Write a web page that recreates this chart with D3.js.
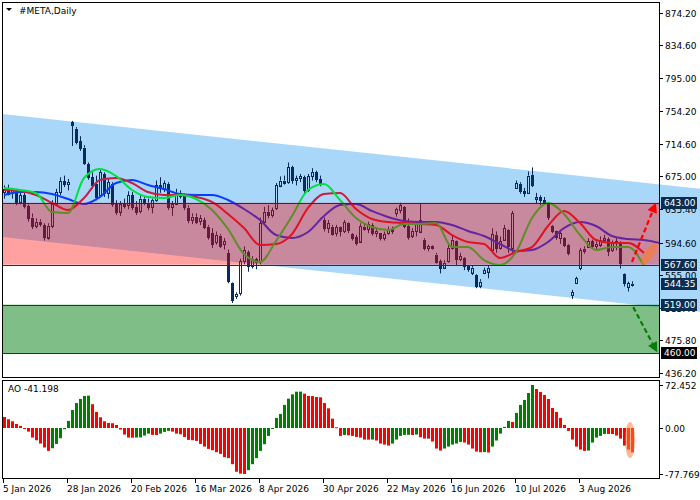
<!DOCTYPE html>
<html><head><meta charset="utf-8">
<script src="https://cdn.jsdelivr.net/npm/d3@7"></script>
<style>
html,body{margin:0;padding:0;background:#fff;}
svg{display:block;}
text{font-family:"DejaVu Sans",Tahoma,sans-serif;font-size:9px;fill:#000;}
</style>
</head><body><svg id="chart" width="700" height="500"></svg>
<script>
// ---------------- DATA ----------------
const title = "#META,Daily";
const dateLabels = ["5 Jan 2026","28 Jan 2026","20 Feb 2026","16 Mar 2026","8 Apr 2026","30 Apr 2026","22 May 2026","16 Jun 2026","10 Jul 2026","3 Aug 2026"];
const dateTickIndex = [0,16,32,48,64,80,96,112,128,144];
const priceTicks = [874.20,834.60,795.00,754.20,714.60,675.00,635.40,594.60,555.00,515.40,475.80,436.20];
const aoTicks = [72.452,0.00,-77.769];

const open = [656,660,654,658,644,652,639,625,615,620,616,601,615,642,656,669,665,741,733,718,
710,690,674,666,652,678,655,666,642,632,642,640,652,638,633,648,643,638,646,664,
660,666,638,642,655,651,637,622,626,620,622,614,606,595,603,592,582,545,529,533,
572,583,566,574,572,620,632,628,636,664,670,668,686,670,672,674,658,675,680,672,
622,612,614,606,613,608,618,605,601,596,614,611,616,606,606,600,606,611,630,634,
638,615,603,608,608,598,588,590,580,572,564,572,588,596,574,576,566,558,555,542,
557,559,586,604,588,598,610,588,661,666,657,655,677,648,650,646,643,615,608,600,
600,592,530,545,563,585,589,596,590,592,598,599,585,594,594,556,540,544];
const high = [664,665,661,660,656,655,641,630,624,623,618,618,646,660,674,676,672,742.5,735,724,
713,692,680,676,684,680,672,668,646,645,648,657,656,645,652,651,648,648,670,674,
670,668,645,660,658,654,640,630,630,628,625,616,612,608,605,600,586,546,534,575,
590,585,578,576,625,638,640,637,667,675,676,692,688,676,678,676,678,685,682,676,
625,622,616,616,614,622,619,606,604,618,617,620,618,612,606,608,614,614,637,643,
639,624,612,620,642,600,592,591,582,574,573,592,604,597,582,577,567,567,556,550,
564,567,612,608,602,616,611,633,670,668,661,681,686,655,652,650,644,616,609,610,
601,593,537,553,588,590,600,598,596,602,604,601,597,600,596,557,547,547.5];
const low = [648,652,648,640,641,636,620,611,612,614,597,598,612,639,652,662,658,712,714,706,
689,671,660,646,650,650,648,638,628,627,636,635,634,628,630,640,634,630,644,655,
656,634,627,640,648,634,618,617,617,616,611,598,588,592,588,586,545,521,526,530,
568,559,563,562,568,616,624,625,634,662,665,666,666,664,668,654,656,670,668,663,
608,606,603,602,602,606,606,597,591,594,609,606,603,601,597,597,604,605,626,630,
612,598,600,602,606,585,584,586,569,557,563,570,586,567,572,561,559,555,539,539,
556,551,585,582,586,597,582,582,660,654,650,654,662,642,640,642,622,606,598,593,
589,579,526,544,561,581,588,587,585,589,595,578,583,585,563,541,535,541];
const close = [660,654,658,644,652,639,624,615,620,617,601,615,642,656,669,665,668,737,717,709,
692,674,664,650,680,655,668,642,632,642,640,652,638,632,648,643,638,646,664,660,
667,638,642,655,651,638,622,626,620,624,614,602,593,604,591,596,548,524,532,572,
585,566,575,570,618,632,628,634,664,670,668,686,670,673,675,658,675,680,672,667,
612,618,606,613,608,619,610,600,594,615,612,617,606,609,600,605,611,608,635,640,
615,602,609,617,622,588,590,587,572,563,570,588,598,574,578,566,562,564,542,547,
561,564,605,588,596,612,590,630,667,657,654,676,665,650,646,644,626,609,601,606,
592,582,534,551,585,587,596,590,593,598,600,585,594,596,570,545,545,544.35];

// Alligator lines, sampled every 4 bars (bar 0,4,8,...,164); null = not drawn
const maStep = 4;
const jaw = [652.4,656.0,656.0,653.6,647.5,641.4,650.0,667.0,670.7,664.6,659.7,653.6,652.4,652.4,646.3,635.4,622.0,603.7,600.1,607.4,
626.8,640.2,641.4,632.9,625.6,620.8,619.5,619.5,615.9,608.6,602.5,592.8,584.3,585.5,595.2,612.2,619.5,614.7,602.5,598.9,597.6,594.0];
const teeth = [658.5,657.3,652.4,642.7,634.1,648.7,670.7,673.1,667.0,656.0,652.4,652.4,650.0,643.9,629.3,612.2,591.6,592.8,604.9,636.6,
653.6,654.8,635.4,623.2,619.5,618.3,617.1,615.9,603.7,595.2,592.8,575.7,583.0,589.1,614.7,632.9,618.3,597.6,594.0,594.0,581.8,null];
const lips = [660.9,658.5,654.8,631.7,630.5,673.1,684.0,675.5,658.5,650.0,648.7,652.4,647.5,634.1,611.0,580.6,570.9,596.4,626.8,658.5,
665.8,646.3,624.4,613.5,609.8,617.1,617.1,618.3,589.1,589.1,573.3,567.2,583.0,624.4,642.7,629.3,603.7,585.5,589.1,589.1,566.0,null];

const ao = [18.5,14.6,11.2,6.7,3.4,-1.7,-6.2,-16.3,-20.8,-26.4,-33.0,-38.8,-34.3,-27.0,-17.4,-2.2,11.8,30.3,42.0,48.9,
54.0,54.5,40.0,27.0,18.0,11.2,8.4,7.9,5.0,-2.8,-11.2,-16.3,-16.5,-16.2,-16.0,-12.9,-9.6,-11.8,-12.0,-9.6,
-6.7,-5.0,-6.2,-9.6,-10.7,-15.2,-20.2,-20.8,-21.9,-27.0,-31.5,-35.4,-37.6,-41.0,-43.8,-49.4,-51.0,-61.2,-74.0,-77.2,
-77.769,-71.3,-61.2,-51.0,-38.8,-27.5,-13.5,-1.7,16.9,23.6,38.8,49.4,56.7,61.2,61.3,57.9,53.9,53.8,52.2,51.7,
42.1,33.1,15.7,1.1,-13.5,-11.8,-12.4,-13.5,-15.2,-16.3,-19.7,-19.8,-19.6,-21.3,-26.4,-28.1,-29.8,-26.4,-19.7,-13.5,
-11.8,-11.7,-11.9,-11.2,-15.7,-18.0,-18.1,-23.0,-34.8,-38.2,-34.8,-31.5,-28.1,-26.4,-23.6,-24.7,-28.1,-34.8,-39.9,-41.0,
-40.8,-41.5,-31.5,-21.3,-9.6,1.7,11.8,10.1,25.3,38.8,47.2,59.0,72.452,65.7,60.7,55.6,48.9,33.7,27.0,16.9,
5.1,-5.1,-19.7,-31.5,-36.5,-38.8,-38.2,-24.7,-16.3,-13.5,-10.1,-10.2,-10.3,-12.9,-18.0,-29.8,-36.5,-41.198];

// channel (upper line at bar 0 and bar 164, price width of channel)
const channelBars = [0,164];
const channelUpper = [750.7,665.3];
const channelWidth = 149.6;
// zones
const resistanceZone = [643.00,567.60];
const targetZone = [519.00,460.00];
// forecast arrows [bar, price] -> [bar, price]
const upArrow = [[157,571],[163,643]];
const downArrow = [[157.3,516],[163.3,461]];
// highlight ellipses (centre bar, value)
const priceMark = [161.3,580.4];
const aoMark = [156.5,-20.4];

// ---------------- DRAW ----------------
const svg = d3.select("#chart");
const P = {l:2, r:660, t:2, b:378};
const A = {t:380, b:479};
const x = d3.scaleLinear().domain([0,164]).range([4,660]);
const y = d3.scaleLinear().domain([436.2,874.2]).range([372.7,12.7]);
const ya = d3.scaleLinear().domain([-77.769,72.452]).range([474,385]);
const NAVY = "#0a2a5c";

const defs = svg.append("defs");
defs.append("clipPath").attr("id","mainClip").append("rect")
  .attr("x",P.l).attr("y",P.t).attr("width",P.r-P.l).attr("height",P.b-P.t);

svg.append("rect").attr("width",700).attr("height",500).attr("fill","#fff");

// channel (extends to the right edge)
const slope = (channelUpper[1]-channelUpper[0])/(channelBars[1]-channelBars[0]);
const upAt = i => channelUpper[0] + slope*(i-channelBars[0]);
const iL = x.invert(P.l), iR = x.invert(700);
svg.append("path")
  .attr("d", d3.line()([[x(iL),y(upAt(iL))],[x(iR),y(upAt(iR))],[x(iR),y(upAt(iR)-channelWidth)],[x(iL),y(upAt(iL)-channelWidth)]]) + "Z")
  .attr("fill","#a9d7fa").attr("clip-path",null);

const main = svg.append("g").attr("clip-path","url(#mainClip)");

// green target zone
main.append("rect").attr("x",P.l).attr("width",P.r-P.l)
  .attr("y",y(targetZone[0])).attr("height",y(targetZone[1])-y(targetZone[0]))
  .attr("fill","rgb(0,128,16)").attr("fill-opacity",0.5);
targetZone.forEach(v=>main.append("line").attr("x1",P.l).attr("x2",P.r)
  .attr("y1",Math.round(y(v))+0.5).attr("y2",Math.round(y(v))+0.5)
  .attr("stroke","#0b4a18").attr("stroke-width",1));

// candles
const idx = d3.range(close.length);
const cg = main.append("g");
idx.forEach(i=>{
  const cx = Math.round(x(i));
  const o=open[i], c=close[i], h=high[i], l=low[i];
  const top = Math.min(y(o),y(c)), bot = Math.max(y(o),y(c));
  cg.append("line").attr("x1",cx+0.5).attr("x2",cx+0.5).attr("y1",y(h)).attr("y2",top)
    .attr("stroke",NAVY).attr("stroke-width",1);
  cg.append("line").attr("x1",cx+0.5).attr("x2",cx+0.5).attr("y1",bot).attr("y2",y(l))
    .attr("stroke",NAVY).attr("stroke-width",1);
  if (c >= o) {
    cg.append("rect").attr("x",cx-0.5).attr("y",Math.round(top)+0.5).attr("width",2)
      .attr("height",Math.max(1,Math.round(bot-top)))
      .attr("fill","none").attr("stroke",NAVY).attr("stroke-width",1);
  } else {
    cg.append("rect").attr("x",cx-1).attr("y",Math.round(top)).attr("width",3)
      .attr("height",Math.max(1,Math.round(bot-top)+1)).attr("fill",NAVY);
  }
});

// alligator
const maLine = d3.line().defined(d=>d[1]!=null).x(d=>x(d[0])).y(d=>y(d[1])).curve(d3.curveMonotoneX);
[[jaw,"#0a3cff"],[teeth,"#c8203c"],[lips,"#00e040"]].forEach(([arr,col])=>{
  main.append("path").attr("d",maLine(arr.map((v,k)=>[k*maStep,v])))
    .attr("fill","none").attr("stroke",col).attr("stroke-width",2);
});

// resistance overlay zone (semi-transparent, tints everything under it)
main.append("rect").attr("x",P.l).attr("width",P.r-P.l)
  .attr("y",y(resistanceZone[0])).attr("height",y(resistanceZone[1])-y(resistanceZone[0]))
  .attr("fill","rgb(255,0,0)").attr("fill-opacity",0.37);
resistanceZone.forEach(v=>main.append("line").attr("x1",P.l).attr("x2",P.r)
  .attr("y1",Math.round(y(v))+0.5).attr("y2",Math.round(y(v))+0.5)
  .attr("stroke","#7a0a1e").attr("stroke-width",1));

// arrows
function arrow(g, seg, col){
  const [a,b] = seg.map(p=>[x(p[0]),y(p[1])]);
  const dx=b[0]-a[0], dy=b[1]-a[1], L=Math.hypot(dx,dy), ux=dx/L, uy=dy/L;
  const hl=10, hw=5;
  const base=[b[0]-ux*hl,b[1]-uy*hl];
  g.append("line").attr("x1",a[0]).attr("y1",a[1]).attr("x2",base[0]).attr("y2",base[1])
    .attr("stroke",col).attr("stroke-width",2.2).attr("stroke-dasharray","5,3");
  g.append("path").attr("d",d3.line()([b,[base[0]-uy*hw,base[1]+ux*hw],[base[0]+uy*hw,base[1]-ux*hw]])+"Z")
    .attr("fill",col);
}
const ov = svg.append("g");
arrow(ov, upArrow, "#ff0000");
arrow(ov, downArrow, "#0a7a0a");
ov.append("ellipse").attr("cx",x(priceMark[0])).attr("cy",y(priceMark[1])).attr("rx",13).attr("ry",4.5)
  .attr("transform",`rotate(-55 ${x(priceMark[0])} ${y(priceMark[1])})`)
  .attr("fill","rgb(255,120,40)").attr("fill-opacity",0.6);

// AO panel
const aoG = svg.append("g");
const z = Math.round(ya(0));
ao.forEach((v,i)=>{
  const cx = Math.round(x(i));
  const up = i>0 && v>ao[i-1];
  const yv = ya(v);
  aoG.append("rect").attr("x",cx-1).attr("width",3)
    .attr("y",Math.min(yv,z)).attr("height",Math.max(1,Math.abs(yv-z)))
    .attr("fill", up ? "#008000" : "#ff0000");
});
svg.append("ellipse").attr("cx",x(aoMark[0])).attr("cy",ya(aoMark[1])).attr("rx",5).attr("ry",18)
  .attr("fill","rgb(255,130,60)").attr("fill-opacity",0.55);

// frames
svg.append("rect").attr("x",P.l+0.5).attr("y",P.t+0.5).attr("width",P.r-P.l-1).attr("height",P.b-P.t-1)
  .attr("fill","none").attr("stroke","#000");
svg.append("rect").attr("x",P.l+0.5).attr("y",A.t+0.5).attr("width",P.r-P.l-1).attr("height",A.b-A.t-1)
  .attr("fill","none").attr("stroke","#000");

// title
svg.append("path").attr("d","M6,8 L12,8 L9,11 Z").attr("fill","#000");
svg.append("text").attr("x",19).attr("y",14).text(title);
svg.append("text").attr("x",8).attr("y",392).text("AO " + ao[ao.length-1].toFixed(3));

// price axis
const axG = svg.append("g");
priceTicks.forEach(v=>{
  const yy = Math.round(y(v))+0.5;
  axG.append("line").attr("x1",P.r-1).attr("x2",P.r+3).attr("y1",yy).attr("y2",yy).attr("stroke","#000");
  axG.append("text").attr("x",665).attr("y",yy).attr("dy","0.35em").text(v.toFixed(2));
});
aoTicks.forEach(v=>{
  const yy = Math.round(ya(v))+0.5;
  axG.append("line").attr("x1",P.r-1).attr("x2",P.r+3).attr("y1",yy).attr("y2",yy).attr("stroke","#000");
  axG.append("text").attr("x",665).attr("y",yy).attr("dy","0.35em").text(v.toFixed(v===0?2:3));
});
// level boxes
const boxes = [[resistanceZone[0],"#0c2d50"],[resistanceZone[1],"#0c2d50"],[close[close.length-1],"#0c2d50"],[targetZone[0],"#0c2d50"],[targetZone[1],"#000000"]];
boxes.forEach(([v,col])=>{
  const yy = y(v);
  axG.append("rect").attr("x",661).attr("y",Math.round(yy)-6).attr("width",36).attr("height",12).attr("fill",col);
  axG.append("text").attr("x",664).attr("y",Math.round(yy)).attr("dy","0.35em").style("fill","#fff").text(v.toFixed(2));
});

// date axis
dateTickIndex.forEach((bi,k)=>{
  const xx = Math.round(x(bi))-0.5;
  svg.append("line").attr("x1",xx).attr("x2",xx).attr("y1",A.b-1).attr("y2",A.b+4).attr("stroke","#000");
  svg.append("text").attr("x",xx-0.5).attr("y",492).text(dateLabels[k]);
});
</script>
</body></html>
